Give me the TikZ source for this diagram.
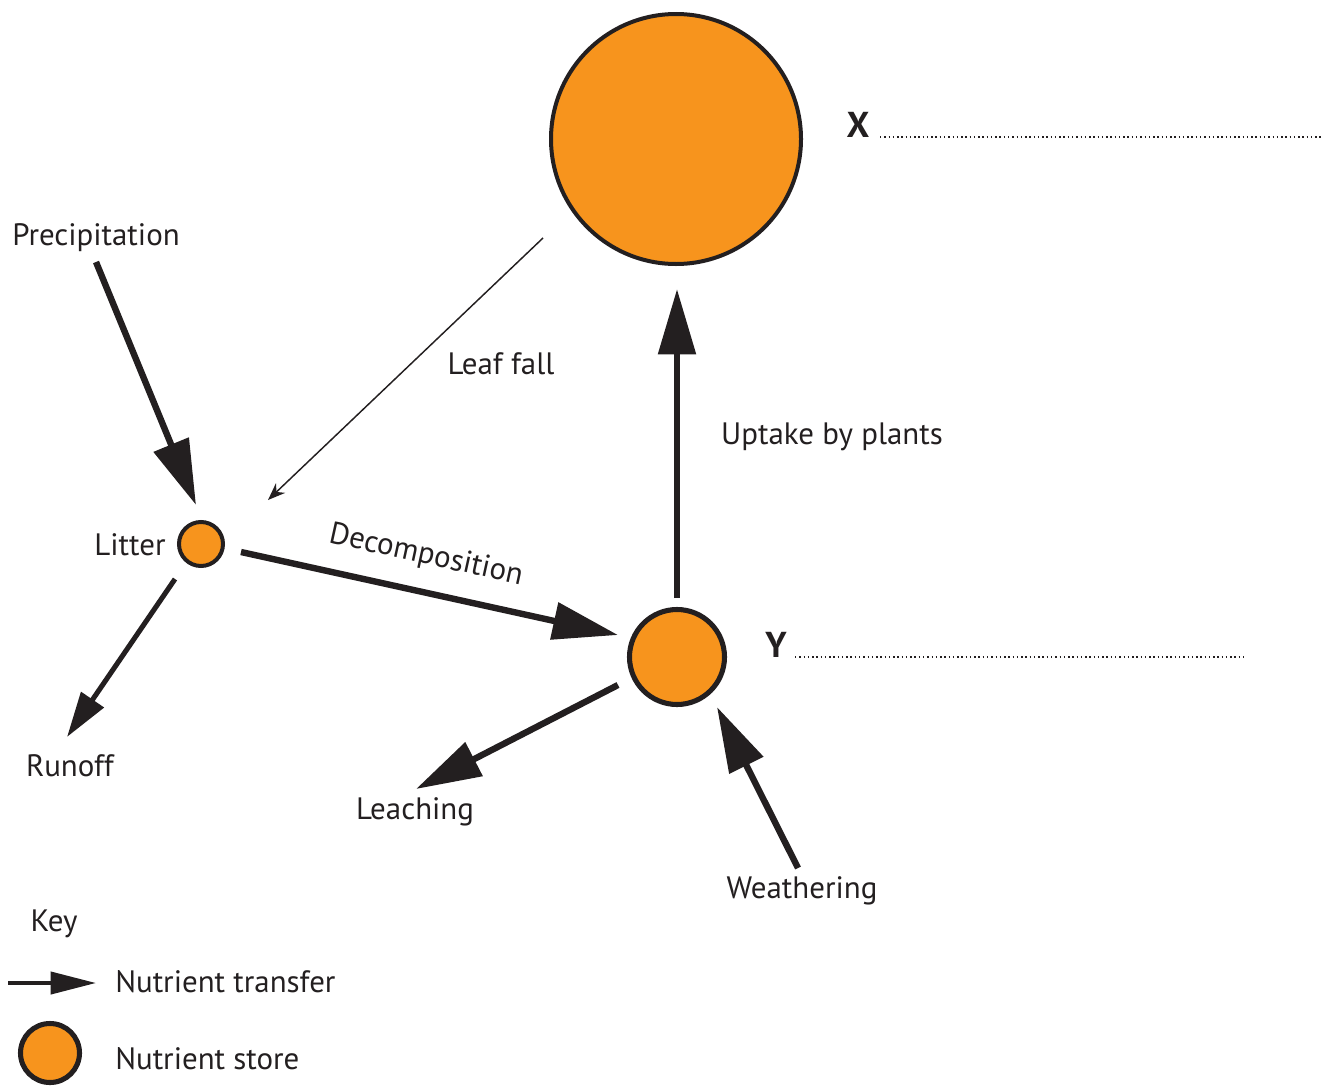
\documentclass[tikz,border=0pt]{standalone}
\usepackage{fontspec}
\setmainfont{PT Sans}
\usetikzlibrary{arrows.meta}
\definecolor{ink}{HTML}{231F20}
\definecolor{orng}{HTML}{F7941D}
\begin{document}
\begin{tikzpicture}[x=0.75pt,y=-0.75pt,
  lbl/.style={text=ink,inner sep=0pt,font=\fontsize{23.2}{27}\selectfont},
  bold/.style={text=ink,inner sep=0pt,font=\fontsize{27}{30}\selectfont\bfseries},
  store/.style={circle,draw=ink,fill=orng,inner sep=0pt,outer sep=0pt},
  flow/.style={draw=ink,line width=4.8pt,-{Triangle[length=49pt,width=27.5pt]}},
  smallflow/.style={draw=ink,line width=3.8pt,-{Triangle[length=34pt,width=20pt]}},
  keyflow/.style={draw=ink,line width=3pt,-{Triangle[length=34pt,width=16.5pt]}},
  thinflow/.style={draw=ink,line width=1.1pt,-{Stealth[length=13pt,width=10pt]}},
  answer/.style={draw=ink,line width=1.1pt,dash pattern=on 1.1pt off 2.1pt}]
\path[use as bounding box] (0,0) rectangle (1324,1085);

% nutrient stores
\node[store,line width=3pt,minimum size=2*125*0.75pt] (X) at (676,139) {};
\node[store,line width=3.8pt,minimum size=2*47.5*0.75pt] (Y) at (677,657) {};
\node[store,line width=3pt,minimum size=2*22*0.75pt] (litter) at (201,544) {};
\node[store,line width=3.8pt,minimum size=2*29.5*0.75pt] (keystore) at (50,1053) {};

% labels
\node[lbl] (prec) at (96,238) {Precipitation};
\node[lbl] (leaf) at (501,364) {Leaf fall};
\node[lbl] (upt) at (832,437) {Uptake by plants};
\node[lbl] (littxt) at (130,545) {Litter};
\node[lbl,rotate=-12.4] (dec) at (426,556) {Decomposition};
\node[lbl] (run) at (70,766) {Runoff};
\node[lbl] (leach) at (415,812) {Leaching};
\node[lbl] (weath) at (802,891) {Weathering};
\node[lbl] (key) at (54,924) {Key};
\node[lbl,anchor=west] (kt) at (115,982) {Nutrient transfer};
\node[lbl,anchor=west] (ks) at (115,1059) {Nutrient store};
\node[bold] (xl) at (858,125) {X};
\node[bold] (yl) at (776,645) {Y};

% arrow end points
\coordinate (prec-s) at (96,262);
\coordinate (prec-e) at (196,505);
\coordinate (leaf-s) at (543,238);
\coordinate (leaf-e) at (268,500);
\coordinate (dec-s) at (241,552);
\coordinate (dec-e) at (618,635);
\coordinate (upt-s) at (677,598);
\coordinate (upt-e) at (677,289);
\coordinate (run-s) at (175,579);
\coordinate (run-e) at (67,737);
\coordinate (leach-s) at (618,685);
\coordinate (leach-e) at (416,789);
\coordinate (weath-s) at (798,868);
\coordinate (weath-e) at (717,707);
\coordinate (key-s) at (8,983);
\coordinate (key-e) at (96,983);
\coordinate (xdot-s) at (880,137);
\coordinate (xdot-e) at (1323,137);
\coordinate (ydot-s) at (795,657);
\coordinate (ydot-e) at (1245,657);

% transfers
\draw[flow] (prec-s) -- (prec-e);
\draw[thinflow] (leaf-s) -- (leaf-e);
\draw[flow] (dec-s) -- (dec-e);
\draw[flow] (upt-s) -- (upt-e);
\draw[smallflow] (run-s) -- (run-e);
\draw[flow] (leach-s) -- (leach-e);
\draw[flow] (weath-s) -- (weath-e);
\draw[keyflow] (key-s) -- (key-e);

% answer lines
\draw[answer] (xdot-s) -- (xdot-e);
\draw[answer] (ydot-s) -- (ydot-e);
\end{tikzpicture}
\end{document}
